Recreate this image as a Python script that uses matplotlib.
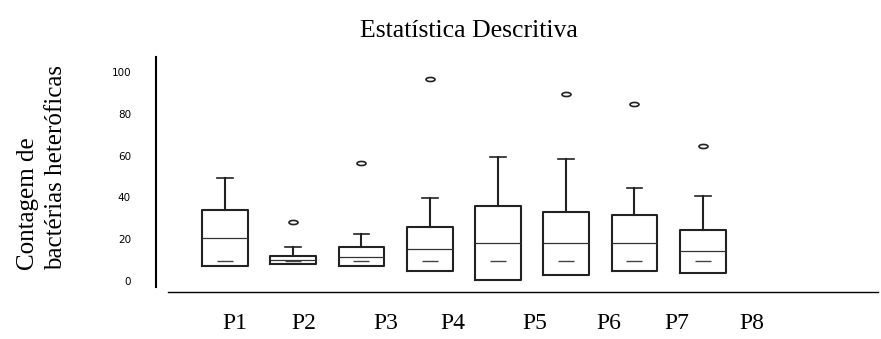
import matplotlib
matplotlib.use("Agg")
import matplotlib.pyplot as plt
from matplotlib.path import Path

# Box statistics
labels = ["P1", "P2", "P3", "P4", "P5", "P6", "P7", "P8"]
q1 = [7.2, 8.1, 7.0, 4.8, 0.5, 2.7, 4.8, 3.7]
med = [20.4, 9.9, 11.3, 15.2, 18.3, 18.0, 18.2, 14.2]
q3 = [34.0, 12.1, 16.3, 26.0, 35.9, 33.2, 31.7, 24.5]
whishi = [49.4, 16.3, 22.3, 39.6, 59.5, 58.5, 44.6, 40.5]
means = [9.6, 9.7, 9.6, 9.6, 9.6, 9.6, 9.6, 9.6]
outliers = [[], [28.4], [56.6], [96.8], [], [89.6], [84.8], [64.4]]

# where the P labels sit under the axis (offset from the boxes)
label_pos = [1.15, 2.16, 3.35, 4.34, 5.54, 6.63, 7.62, 8.72]

stats = []
for i in range(len(labels)):
    stats.append({
        "label": labels[i],
        "q1": q1[i], "med": med[i], "q3": q3[i],
        "whislo": q1[i], "whishi": whishi[i],
        "mean": means[i], "fliers": outliers[i],
    })

# flat ellipse for the outlier markers
circ = Path.unit_circle()
ellipse = Path(circ.vertices * [1.0, 0.45], circ.codes)

fig = plt.figure(figsize=(8.81, 3.39), dpi=100)
ax = fig.add_axes([156 / 881, 47 / 339, 722 / 881, 236 / 339])

line_col = "#222222"
ax.bxp(stats, positions=range(1, 9), widths=0.67, capwidths=0.23,
       showmeans=True, showfliers=True,
       boxprops=dict(color=line_col, linewidth=1.5),
       whiskerprops=dict(color=line_col, linewidth=1.5),
       capprops=dict(color=line_col, linewidth=1.2),
       medianprops=dict(color="#333333", linewidth=0.9),
       meanprops=dict(marker="_", markersize=12, markeredgecolor="#444444",
                      markeredgewidth=1.0),
       flierprops=dict(marker=ellipse, markersize=6.5, markerfacecolor="none",
                       markeredgecolor=line_col, markeredgewidth=1.2))

ax.set_xlim(-0.011, 10.568)
ax.set_ylim(-5.26, 107.7)

ax.spines["top"].set_visible(False)
ax.spines["right"].set_visible(False)
ax.spines["left"].set_bounds(-2.7, 107.3)
ax.spines["left"].set_linewidth(1.5)
ax.spines["bottom"].set_bounds(0.165, 10.568)
ax.spines["bottom"].set_linewidth(1.0)

ax.set_yticks([0, 20, 40, 60, 80, 100])
ax.tick_params(axis="y", length=0, pad=18, labelsize=7.5)
ax.set_xticks(label_pos)
ax.set_xticklabels(labels, fontfamily="Liberation Serif", fontsize=17)
ax.tick_params(axis="x", length=0, pad=15)

fig.text(468.5 / 881, 1 - 31 / 339, "Estatística Descritiva",
         fontfamily="Liberation Serif", fontsize=18.5, ha="center", va="center")
fig.text(42 / 881, 1 - 270 / 339, "Contagem de\nbactérias heteróficas",
         fontfamily="Liberation Serif", fontsize=18, rotation=90,
         ha="center", va="bottom", multialignment="left", linespacing=1.3)

plt.savefig("out.png", dpi=100)
